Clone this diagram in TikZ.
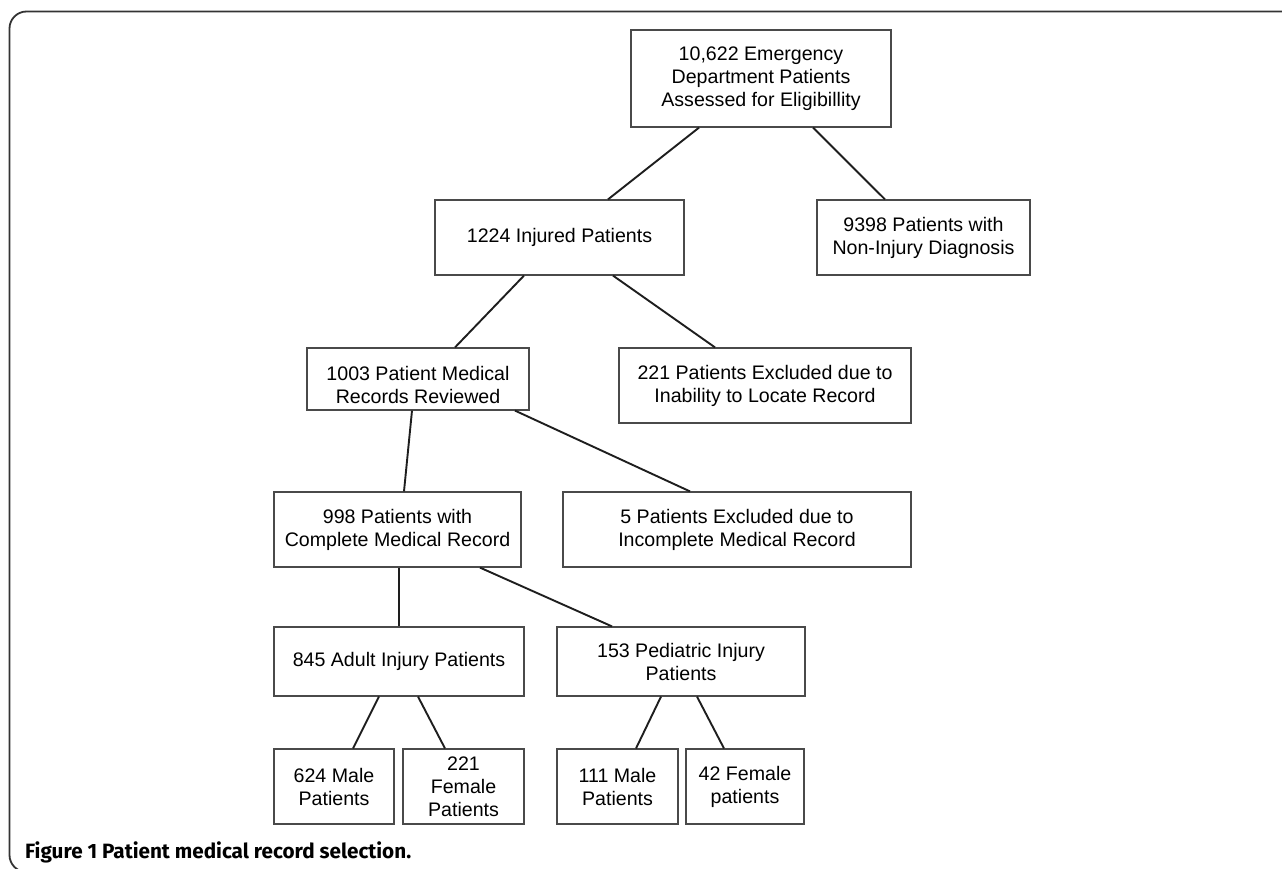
\documentclass[tikz,border=0pt]{standalone}
\usepackage{fontspec}
\setmainfont{Liberation Sans}
\newfontfamily\capfont{Fira Sans}
\usetikzlibrary{calc}
\definecolor{boxgray}{HTML}{4A4A4A}
\definecolor{linegray}{HTML}{1E1E1E}
\tikzset{
  box/.style={draw=boxgray, line width=1.2pt, rectangle, inner sep=0pt, align=center,
    font=\fontsize{19.6}{23}\selectfont, text=black},
  txt/.style={inner sep=0pt, align=center, font=\fontsize{19.6}{23}\selectfont, text=black},
  conn/.style={draw=linegray, line width=1.9pt},
  frame/.style={draw=black!80, line width=1.8pt}
}
\begin{document}
\begin{tikzpicture}[x=1pt,y=-1pt]
\useasboundingbox (0,0) rectangle (1282,868);
% outer frame
\draw[frame, rounded corners=17pt] (60,872) -- (9.5,872) -- (9.5,11.5) -- (1290,11.5);
% boxes
\node[box, minimum width=260pt, minimum height=97pt] (top) at (761,78.5) {10,622 Emergency\\Department Patients\\Assessed for Eligibillity};
\node[box, minimum width=249pt, minimum height=75pt] (inj) at (559.5,237.5) {1224 Injured Patients};
\node[box, minimum width=213pt, minimum height=75pt] (non) at (923.5,237.5) {9398 Patients with\\Non-Injury Diagnosis};
\node[box, minimum width=222pt, minimum height=62pt] (rev) at (418,379) {};
\node[txt] (revtext) at ([yshift=-6pt]rev.center) {1003 Patient Medical\\Records Reviewed};
\node[box, minimum width=292pt, minimum height=75pt] (exa) at (765,385.5) {221 Patients Excluded due to\\Inability to Locate Record};
\node[box, minimum width=247pt, minimum height=75pt] (comp) at (397.5,529.5) {998 Patients with\\Complete Medical Record};
\node[box, minimum width=348pt, minimum height=75pt] (exb) at (737,529.5) {5 Patients Excluded due to\\Incomplete Medical Record};
\node[box, minimum width=250pt, minimum height=69pt] (adult) at (399,661.5) {845 Adult Injury Patients};
\node[box, minimum width=248pt, minimum height=69pt] (ped) at (681,661.5) {153 Pediatric Injury\\Patients};
\node[box, minimum width=120pt, minimum height=75pt] (am) at (334,786.5) {624 Male\\Patients};
\node[box, minimum width=121pt, minimum height=75pt] (af) at (463.5,786.5) {221\\Female\\Patients};
\node[box, minimum width=121pt, minimum height=75pt] (pm) at (617.5,786.5) {111 Male\\Patients};
\node[box, minimum width=118pt, minimum height=75pt] (pf) at (745,786.5) {42 Female\\patients};
% connectors
\draw[conn] ([xshift=-62pt]top.south) -- ([xshift=48.5pt]inj.north);
\draw[conn] ([xshift=52pt]top.south) -- ([xshift=-38.5pt]non.north);
\draw[conn] ([xshift=-35.5pt]inj.south) -- ([xshift=37pt]rev.north);
\draw[conn] ([xshift=53.5pt]inj.south) -- ([xshift=-50pt]exa.north);
\draw[conn] ([xshift=-6pt]rev.south) -- ([xshift=6.5pt]comp.north);
\draw[conn] ([xshift=97pt]rev.south) -- ([xshift=-47pt]exb.north);
\draw[conn] (adult.north |- comp.south) -- (adult.north);
\draw[conn] ([xshift=82.5pt]comp.south) -- ([xshift=-69pt]ped.north);
\draw[conn] ([xshift=-20pt]adult.south) -- ([xshift=19pt]am.north);
\draw[conn] ([xshift=19pt]adult.south) -- ([xshift=-18.5pt]af.north);
\draw[conn] ([xshift=-20pt]ped.south) -- ([xshift=18.5pt]pm.north);
\draw[conn] ([xshift=16pt]ped.south) -- ([xshift=-21pt]pf.north);
% caption
\node[anchor=base west, inner sep=0pt] (cap) at (25,858) {\resizebox{386pt}{!}{\capfont\bfseries Figure 1 Patient medical record selection.}};
\end{tikzpicture}
\end{document}
